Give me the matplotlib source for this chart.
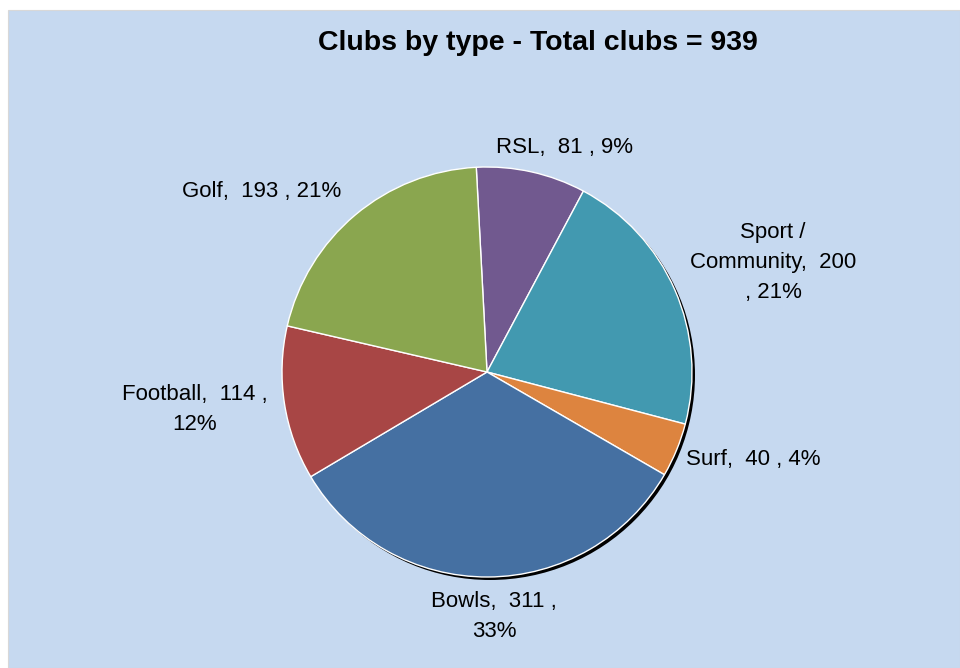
import matplotlib.pyplot as plt
from matplotlib.patches import Circle, Rectangle

plt.rcParams["font.family"] = ["Liberation Sans", "DejaVu Sans"]

categories = ["RSL", "Sport / Community", "Surf", "Bowls", "Football", "Golf"]
clubs = [81, 200, 40, 311, 114, 193]
colors = ["#71598F", "#4299B0", "#DD843F", "#4570A2", "#A84645", "#8AA64F"]

W, H = 960, 668
total = sum(clubs)

# label anchor: x, baseline of first line (pixels from top-left), alignment
label_pos = [(565, 153, "center"), (773, 238, "center"), (686, 465, "left"),
             (494, 607, "center"), (195, 400, "center"), (262, 197, "center")]
LINE_STEP = 30


def label_lines(name, n):
    pct = f"{round(100 * n / total)}%"
    if name.startswith("Sport"):
        return ["Sport /", f"Community,  {n}", f", {pct}"]
    if name in ("Football", "Bowls"):
        return [f"{name},  {n} ,", pct]
    return [f"{name},  {n} , {pct}"]


fig = plt.figure(figsize=(W / 100, H / 100), dpi=100)
fig.patch.set_facecolor("white")
ax = fig.add_axes([0, 0, 1, 1])

ax.add_patch(Rectangle((8, 0), W - 8, H - 10, facecolor="#C6D9F0",
                       edgecolor="#D8D8D8", linewidth=0.8, zorder=0))

cx, cy, r = 487, H - 372, 205
# drop shadow under the pie
ax.add_patch(Circle((cx + 3, cy - 3), r, facecolor="black", zorder=1))

wedges, _ = ax.pie(
    clubs,
    colors=colors,
    startangle=93,
    counterclock=False,
    center=(cx, cy),
    radius=r,
    frame=True,
    wedgeprops=dict(edgecolor="white", linewidth=1.0),
)
for w in wedges:
    w.set_zorder(2)

ax.set_xlim(0, W)
ax.set_ylim(0, H)
ax.set_aspect("equal")
ax.axis("off")

for name, n, (x, y, ha) in zip(categories, clubs, label_pos):
    for i, line in enumerate(label_lines(name, n)):
        ax.text(x, H - y - i * LINE_STEP, line, ha=ha, va="baseline",
                fontsize=16, color="black", zorder=3)

ax.text(538, H - 50, f"Clubs by type - Total clubs = {total}", ha="center",
        va="baseline", fontsize=20.5, fontweight="bold", zorder=3)

fig.savefig("out.png", dpi=100)
